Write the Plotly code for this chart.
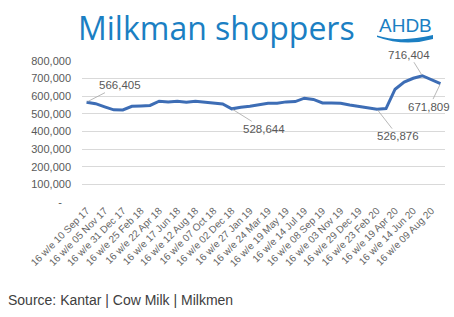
import plotly.graph_objects as go
from datetime import date, timedelta

# ---- data ----
start = date(2017, 9, 10)
period_ends = [start + timedelta(days=28 * i) for i in range(40)]
categories = ["16 w/e " + d.strftime("%d %b %y") for d in period_ends]

shoppers = [566405, 558000, 540000, 523000, 522000, 543000, 545000, 548000,
            572000, 567000, 572000, 566000, 572000, 568000, 563000, 556000,
            528644, 538000, 543000, 550000, 560000, 560000, 568000, 570000,
            589000, 582000, 562000, 562000, 560000, 550000, 543000, 534000,
            526876, 530000, 640000, 680000, 702000, 716404, 695000, 671809]

tick_cats = categories[::2]
y_ticks = [0, 100000, 200000, 300000, 400000, 500000, 600000, 700000, 800000]
y_ticktext = ["-\u00a0\u00a0\u00a0"] + [f"{v:,}" for v in y_ticks[1:]]

# labelled points: (index, ax, ay)
labelled = [(0, 33, -17), (16, 32, 20), (32, 21, 27), (37, -13, -21), (39, -11, 23)]

BLUE = "#1b7fc3"
GREY = "#595959"

fig = go.Figure()
fig.add_trace(go.Scatter(
    x=categories, y=shoppers, mode="lines",
    line=dict(color="#3d6db5", width=3), hoverinfo="skip"))

for idx, ax, ay in labelled:
    fig.add_annotation(
        x=categories[idx], y=shoppers[idx], text=f"{shoppers[idx]:,}",
        showarrow=True, arrowhead=0, arrowwidth=0.8, arrowcolor="#a6a6a6",
        ax=ax, ay=ay, standoff=1,
        font=dict(family="Liberation Sans, Arial", size=11.5, color=GREY))

# Title
fig.add_annotation(
    text="Milkman shoppers", xref="paper", yref="paper",
    x=(216 - 82) / 363, y=(202 - 27) / 141, xanchor="center", yanchor="middle",
    showarrow=False, font=dict(family="Open Sans", size=32, color=BLUE, weight=500))

# AHDB logo text
fig.add_annotation(
    text="AHDB", xref="paper", yref="paper",
    x=(405 - 82) / 363, y=(202 - 25) / 141, xanchor="center", yanchor="middle",
    showarrow=False, font=dict(family="Liberation Sans, Arial", size=19, color=BLUE))

def px(xp):
    return (xp - 82) / 363

def py(yp):
    return (202 - yp) / 141

swoosh = (f"M {px(377)},{py(35.5)} Q {px(400)},{py(43)} {px(433)},{py(35)} "
          f"L {px(433)},{py(39)} Q {px(405)},{py(47)} {px(377)},{py(37)} Z")
fig.add_shape(type="path", path=swoosh, xref="paper", yref="paper",
              fillcolor=BLUE, line=dict(width=0))

# Source
fig.add_annotation(
    text="Source: Kantar | Cow Milk | Milkmen", xref="paper", yref="paper",
    x=px(6), y=py(300), xanchor="left", yanchor="middle", showarrow=False,
    font=dict(family="Liberation Sans, Arial", size=14, color="#404040"))

fig.update_layout(
    width=454, height=317,
    margin=dict(l=82, r=9, t=61, b=115),
    paper_bgcolor="white", plot_bgcolor="white",
    showlegend=False,
    xaxis=dict(type="category", range=[-0.5, 39.5], tickmode="array",
               tickvals=tick_cats, ticktext=tick_cats, tickangle=-45,
               showgrid=False, zeroline=False, showline=False, ticks="",
               tickfont=dict(family="Liberation Sans, Arial", size=10, color="#666666")),
    yaxis=dict(range=[0, 800000], tickmode="array", tickvals=y_ticks,
               ticktext=y_ticktext, showgrid=True, gridcolor="#d9d9d9",
               gridwidth=1, zeroline=False, showline=False, ticks="",
               ticklabelstandoff=10,
               tickfont=dict(family="Liberation Sans, Arial", size=11, color=GREY)),
)

fig.write_html("out.html")
